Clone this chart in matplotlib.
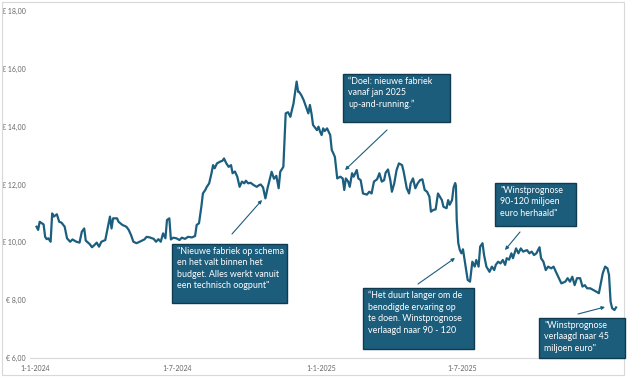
import matplotlib
matplotlib.use("Agg")
import matplotlib.pyplot as plt
import matplotlib.dates as mdates
from matplotlib.patches import Rectangle, FancyArrowPatch
from matplotlib.ticker import FuncFormatter
import pandas as pd

# data
dates = [
    "2024-01-03", "2024-01-05", "2024-01-07", "2024-01-12", "2024-01-14", "2024-01-16", "2024-01-18", "2024-01-21",
    "2024-01-23", "2024-01-25", "2024-01-29", "2024-02-01", "2024-02-04", "2024-02-08", "2024-02-11", "2024-02-15",
    "2024-02-18", "2024-02-23", "2024-02-27", "2024-03-01", "2024-03-04", "2024-03-06", "2024-03-11", "2024-03-14",
    "2024-03-18", "2024-03-20", "2024-03-23", "2024-03-26", "2024-03-31", "2024-04-03", "2024-04-06", "2024-04-08",
    "2024-04-10", "2024-04-15", "2024-04-17", "2024-04-22", "2024-04-27", "2024-04-30", "2024-05-03", "2024-05-06",
    "2024-05-10", "2024-05-14", "2024-05-20",
    "2024-05-23", "2024-05-27", "2024-06-01", "2024-06-04", "2024-06-07", "2024-06-10", "2024-06-13", "2024-06-16",
    "2024-06-18", "2024-06-21", "2024-06-23", "2024-06-26", "2024-06-30", "2024-07-04", "2024-07-07", "2024-07-11",
    "2024-07-15", "2024-07-20", "2024-07-24", "2024-07-26", "2024-07-29", "2024-08-01", "2024-08-03", "2024-08-06",
    "2024-08-08", "2024-08-11", "2024-08-14", "2024-08-16", "2024-08-18", "2024-08-21", "2024-08-25", "2024-08-28",
    "2024-08-30", "2024-09-02", "2024-09-05", "2024-09-08", "2024-09-10", "2024-09-13", "2024-09-16", "2024-09-19",
    "2024-09-22", "2024-09-25", "2024-09-27", "2024-09-30", "2024-10-03", "2024-10-07", "2024-10-11", "2024-10-14",
    "2024-10-16", "2024-10-19", "2024-10-22", "2024-10-25", "2024-10-30", "2024-11-02", "2024-11-05", "2024-11-08",
    "2024-11-10", "2024-11-14", "2024-11-17", "2024-11-20", "2024-11-23", "2024-11-25", "2024-11-27", "2024-12-01",
    "2024-12-03", "2024-12-04", "2024-12-07", "2024-12-10", "2024-12-13", "2024-12-16", "2024-12-18", "2024-12-20",
    "2024-12-22", "2024-12-27", "2024-12-29", "2024-12-31",
    "2025-01-02", "2025-01-04", "2025-01-06", "2025-01-09", "2025-01-13", "2025-01-15", "2025-01-17", "2025-01-19",
    "2025-01-22", "2025-01-26", "2025-01-29", "2025-01-31", "2025-02-02", "2025-02-05", "2025-02-07", "2025-02-10",
    "2025-02-12", "2025-02-16", "2025-02-18", "2025-02-21", "2025-02-24", "2025-03-01", "2025-03-04", "2025-03-07",
    "2025-03-10", "2025-03-14", "2025-03-17", "2025-03-20", "2025-03-23", "2025-03-25", "2025-03-28", "2025-03-31",
    "2025-04-02", "2025-04-05", "2025-04-08", "2025-04-11", "2025-04-15", "2025-04-17", "2025-04-19", "2025-04-21",
    "2025-04-24", "2025-04-26", "2025-04-29", "2025-05-02", "2025-05-05", "2025-05-08", "2025-05-11", "2025-05-14",
    "2025-05-17", "2025-05-20", "2025-05-22", "2025-05-25", "2025-05-28", "2025-05-31",
    "2025-06-05", "2025-06-07", "2025-06-11", "2025-06-13", "2025-06-15", "2025-06-18", "2025-06-20", "2025-06-22",
    "2025-06-23", "2025-06-24", "2025-06-26", "2025-06-28", "2025-06-30", "2025-07-02", "2025-07-05", "2025-07-08",
    "2025-07-11", "2025-07-14", "2025-07-17", "2025-07-19", "2025-07-22", "2025-07-24", "2025-07-27", "2025-07-29",
    "2025-08-01", "2025-08-05", "2025-08-08", "2025-08-11", "2025-08-13", "2025-08-16", "2025-08-19", "2025-08-22",
    "2025-08-25", "2025-08-27", "2025-08-30", "2025-09-02", "2025-09-04", "2025-09-08", "2025-09-11", "2025-09-14",
    "2025-09-17", "2025-09-22", "2025-09-25",
    "2025-09-28", "2025-10-01", "2025-10-04", "2025-10-08", "2025-10-10", "2025-10-13", "2025-10-16", "2025-10-19",
    "2025-10-23", "2025-10-26", "2025-10-29", "2025-11-01", "2025-11-05", "2025-11-10", "2025-11-13", "2025-11-16",
    "2025-11-19", "2025-11-22", "2025-11-25", "2025-11-29", "2025-12-02", "2025-12-05", "2025-12-08", "2025-12-12",
    "2025-12-16", "2025-12-20", "2025-12-23", "2025-12-25", "2025-12-28", "2025-12-31", "2026-01-03", "2026-01-05",
    "2026-01-07", "2026-01-09", "2026-01-12", "2026-01-14",
]
prices = [
    10.54, 10.43, 10.71, 10.62, 10.19, 10.11, 10.14, 10.02,
    11.00, 10.89, 10.97, 10.71, 10.68, 10.54, 10.14, 10.02,
    10.10, 10.02, 9.99, 10.37, 10.48, 10.06, 9.94, 9.83,
    9.93, 9.99, 9.85, 10.02, 10.08, 10.48, 10.89, 10.48,
    10.83, 10.83, 10.71, 10.60, 10.54, 10.43, 10.25, 10.02,
    9.97, 10.02, 10.10,
    10.19, 10.17, 10.12, 10.02, 10.11, 10.02, 10.31, 10.14,
    10.77, 10.83, 10.10, 10.16, 10.14, 10.08, 10.16, 10.12,
    10.19, 10.17, 10.22, 10.60, 10.66, 11.23, 11.69, 11.81,
    11.92, 12.04, 12.39, 12.67, 12.56, 12.73, 12.79, 12.82,
    12.90, 12.73, 12.61, 12.67, 12.39, 12.45, 12.27, 11.92,
    12.10, 12.04, 12.13, 12.04, 12.06, 11.98, 11.92, 11.98,
    12.00, 11.90, 11.52, 11.90, 12.44, 12.20, 12.30, 11.87,
    12.44, 12.61, 14.46, 14.50, 14.34, 14.58, 14.80, 15.56,
    15.20, 15.21, 15.09, 14.92, 14.69, 14.46, 14.75, 14.46,
    14.06, 13.88, 14.00, 13.83,
    13.71, 13.94, 13.85, 13.94, 13.71, 13.19, 13.08, 12.95,
    12.21, 12.27, 12.21, 11.81, 12.21, 12.10, 11.92, 12.39,
    12.27, 12.50, 12.21, 12.15, 11.69, 11.65, 11.75, 11.69,
    12.10, 12.18, 12.39, 12.10, 12.15, 12.41, 12.52, 12.15,
    11.75, 12.04, 12.50, 12.73, 12.67, 12.45, 12.15, 11.87,
    11.69, 12.04, 12.21, 11.87, 12.04, 12.15, 12.18, 11.81,
    11.75, 11.58, 11.06, 11.12, 11.14, 11.69,
    11.46, 11.23, 11.18, 11.46, 11.30, 11.46, 11.90, 12.05,
    11.95, 10.77, 9.97, 9.73, 9.62, 9.76, 9.22, 8.70,
    8.64, 9.33, 9.16, 9.39, 9.16, 9.85, 9.97, 9.56,
    9.16, 8.98, 9.16, 9.04, 9.22, 9.33, 9.27, 9.39,
    9.22, 9.45, 9.40, 9.62, 9.45, 9.79, 9.62, 9.79,
    9.68, 9.73, 9.62,
    9.68, 9.56, 9.62, 9.83, 9.45, 9.33, 9.04, 9.16,
    9.10, 9.16, 8.98, 8.81, 8.58, 8.64, 8.76, 8.64,
    8.81, 8.52, 8.76, 8.76, 8.47, 8.52, 8.41, 8.41,
    8.35, 8.29, 8.24, 8.52, 8.93, 9.16, 9.10, 8.87,
    7.95, 7.72, 7.66, 7.75,
]
tick_dates = ["2024-01-01", "2024-07-01", "2025-01-01", "2025-07-01"]
tick_labels = ["1-1-2024", "1-7-2024", "1-1-2025", "1-7-2025"]
y_ticks = [6, 8, 10, 12, 14, 16, 18]

notes = [
    "\"Nieuwe fabriek op schema\nen het valt binnen het\nbudget. Alles werkt vanuit\neen technisch oogpunt\"",
    "\u201cDoel: nieuwe fabriek\nvanaf jan 2025\nup-and-running.\u201d",
    "\u201cHet duurt langer om de\nbenodigde ervaring op\nte doen. Winstprognose\nverlaagd naar 90 - 120",
    "\"Winstprognose\n90-120 miljoen\neuro herhaald\"",
    "\"Winstprognose\nverlaagd naar 45\nmiljoen euro\"",
]

# layout (pixels of the 627x380 picture)
W, H = 627, 380
LINE = "#1b5e7e"
BOX = "#1c5d7c"
EDGE = "#0f3a50"
boxes = [(172, 244, 287, 303), (343, 74, 450, 122), (363, 288, 474, 349),
         (495, 183, 576, 226), (539, 318, 625, 358)]
arrows = [((232, 234), (262, 200)), ((387, 130), (345, 170)), ((418, 284), (455, 258)),
          ((520, 232), (505, 250)), ((578, 314), (605, 307))]


def fx(x):
    return x / W


def fy(y):
    return 1 - y / H


plt.rcParams['font.family'] = ['Lato', 'DejaVu Sans']
fig = plt.figure(figsize=(6.27, 3.80), dpi=100)
ax = fig.add_axes([fx(30), fy(358), fx(618) - fx(30), fy(11) - fy(358)])

x = pd.to_datetime(dates)
ax.plot(x, prices, color=LINE, lw=1.6, solid_joinstyle='round')

start = pd.Timestamp("2024-01-01")
ax.set_xlim(mdates.date2num(start) - 6.4, mdates.date2num(start) + 746.5)
ax.set_ylim(6, 18)
ax.set_yticks(y_ticks)
ax.yaxis.set_major_formatter(FuncFormatter(lambda v, p: ("\u20ac %.2f" % v).replace(".", ",")))
ax.set_xticks(pd.to_datetime(tick_dates))
ax.set_xticklabels(tick_labels)
ax.tick_params(length=0, labelsize=5, colors="#666666")
ax.tick_params(axis="y", pad=3)
ax.tick_params(axis="x", pad=5)
for s in ["top", "right", "left"]:
    ax.spines[s].set_visible(False)
ax.spines["bottom"].set_color("#d9d9d9")
ax.spines["bottom"].set_linewidth(0.8)

# chart border
fig.add_artist(Rectangle((fx(2), fy(375)), fx(622), fy(2) - fy(375), transform=fig.transFigure,
                         fill=False, ec="#d9d9d9", lw=0.8))

for (x0, y0, x1, y1), txt in zip(boxes, notes):
    fig.add_artist(Rectangle((fx(x0), fy(y1)), fx(x1 - x0), fy(y0) - fy(y1), transform=fig.transFigure,
                             fc=BOX, ec=EDGE, lw=1.0, zorder=5))
    fig.text(fx(x0 + 5), fy(y0 + 3), txt, color="white", fontsize=6.4, va="top", ha="left",
             linespacing=1.35, zorder=6)

for (p0, p1) in arrows:
    fig.add_artist(FancyArrowPatch((fx(p0[0]), fy(p0[1])), (fx(p1[0]), fy(p1[1])),
                                   transform=fig.transFigure, arrowstyle="-|>", mutation_scale=5,
                                   color=LINE, lw=0.8, shrinkA=0, shrinkB=0))

fig.savefig("out.png", dpi=100)
